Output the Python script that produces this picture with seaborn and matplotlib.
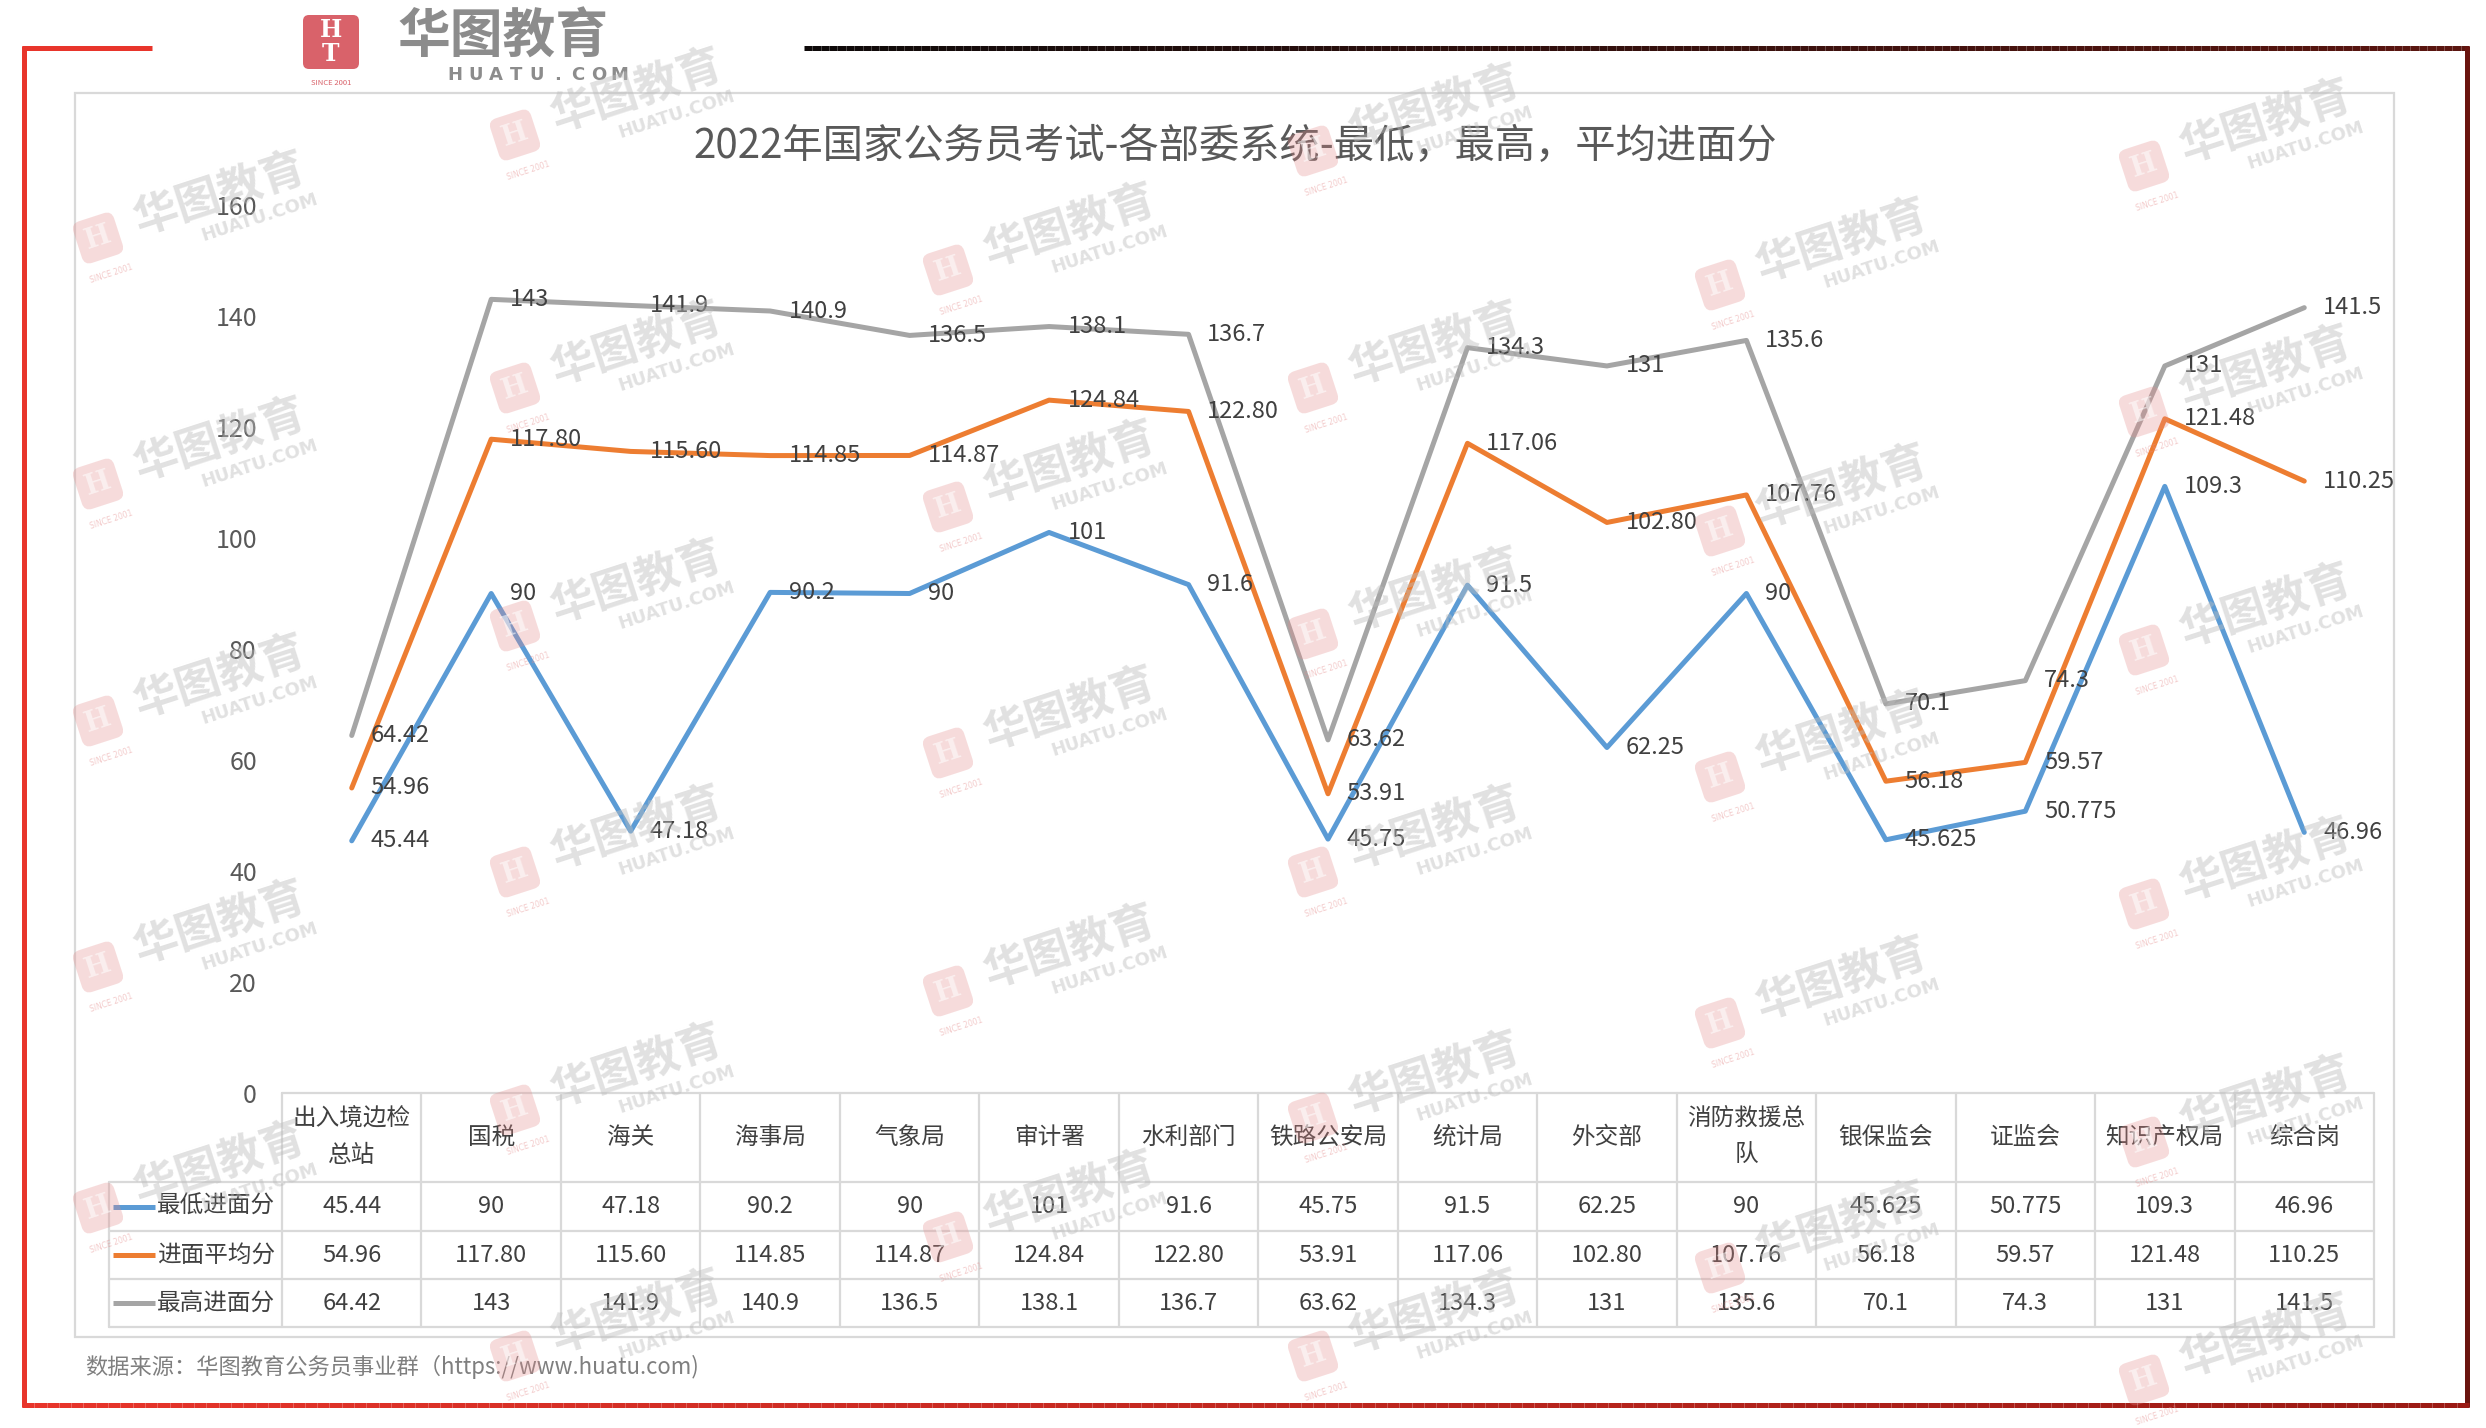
import numpy as np
import pandas as pd
import matplotlib
matplotlib.use('Agg')
import matplotlib.pyplot as plt
import seaborn as sns
import textwrap
from matplotlib.collections import LineCollection
from matplotlib.patches import Rectangle, FancyBboxPatch
from matplotlib.colors import LinearSegmentedColormap

# ---------------- data ----------------
categories = ['出入境边检总站', '国税', '海关', '海事局', '气象局', '审计署', '水利部门',
              '铁路公安局', '统计局', '外交部', '消防救援总队', '银保监会', '证监会',
              '知识产权局', '综合岗']
low_scores = [45.44, 90, 47.18, 90.2, 90, 101, 91.6, 45.75, 91.5, 62.25, 90, 45.625,
              50.775, 109.3, 46.96]
avg_scores = [54.96, 117.80, 115.60, 114.85, 114.87, 124.84, 122.80, 53.91, 117.06,
              102.80, 107.76, 56.18, 59.57, 121.48, 110.25]
high_scores = [64.42, 143, 141.9, 140.9, 136.5, 138.1, 136.7, 63.62, 134.3, 131, 135.6,
               70.1, 74.3, 131, 141.5]
series_names = ['最低进面分', '进面平均分', '最高进面分']
series_colors = ['#5B9BD5', '#ED7D31', '#A5A5A5']
y_ticks = [0, 20, 40, 60, 80, 100, 120, 140, 160]
title_text = '2022年国家公务员考试-各部委系统-最低，最高，平均进面分'
source_text = '数据来源：华图教育公务员事业群（https://www.huatu.com)'


def fmt_plain(v):
    return f'{v:g}'


def fmt_avg(v):
    return f'{v:.2f}'


series_values = [low_scores, avg_scores, high_scores]
series_fmt = [fmt_plain, fmt_avg, fmt_plain]

# ---------------- style ----------------
sns.set_theme(style='white')
plt.rcParams['font.family'] = ['Noto Sans CJK SC', 'DejaVu Sans']

W, H, DPI = 2486, 1428, 100
fig = plt.figure(figsize=(W / DPI, H / DPI), dpi=DPI, facecolor='white')

# background overlay in pixel coordinates
ov = fig.add_axes([0, 0, 1, 1])
ov.set_xlim(0, W)
ov.set_ylim(H, 0)
ov.axis('off')

TXT = '#404040'
GRID = '#D9D9D9'

# ---------------- line chart ----------------
left_px, right_px = 282, 2374
zero_px, top_px = 1093, 205
ax = fig.add_axes([left_px / W, 1 - zero_px / H, (right_px - left_px) / W,
                   (zero_px - top_px) / H])
ax.set_facecolor('none')

df = pd.DataFrame({
    'idx': list(range(len(categories))) * 3,
    '分数': low_scores + avg_scores + high_scores,
    '系列': [s for s in series_names for _ in categories],
})
sns.lineplot(data=df, x='idx', y='分数', hue='系列', hue_order=series_names,
             palette=series_colors, linewidth=3.6, ax=ax, legend=False,
             sort=False, estimator=None)

for vals, f in zip(series_values, series_fmt):
    for i, v in enumerate(vals):
        ax.annotate(f(v), (i, v), xytext=(13.5, 0), textcoords='offset points',
                    ha='left', va='center', fontsize=17, color=TXT)

ax.set_xlim(-0.5, len(categories) - 0.5)
ax.set_ylim(y_ticks[0], y_ticks[-1])
ax.set_yticks(y_ticks)
ax.set_yticklabels([str(t) for t in y_ticks], fontsize=18, color='#595959')
ax.set_xticks([])
ax.tick_params(axis='y', length=0, pad=18)
ax.set_xlabel('')
ax.set_ylabel('')
for sp in ax.spines.values():
    sp.set_visible(False)

# ---------------- data table ----------------
n = len(categories)
col_w = (right_px - left_px) / n
row_edges = [1093, 1182, 1231, 1279, 1327]
legend_left = 109
lw_grid = 1.6

ov.plot([left_px, right_px], [row_edges[0]] * 2, color=GRID, lw=lw_grid)
for yy in row_edges[1:]:
    ov.plot([legend_left, right_px], [yy, yy], color=GRID, lw=lw_grid)
for k in range(n + 1):
    xx = left_px + k * col_w
    ov.plot([xx, xx], [row_edges[0], row_edges[-1]], color=GRID, lw=lw_grid)
ov.plot([legend_left, legend_left], [row_edges[1], row_edges[-1]], color=GRID, lw=lw_grid)

hdr_y = (row_edges[0] + row_edges[1]) / 2
for i, cat in enumerate(categories):
    ov.text(left_px + (i + 0.5) * col_w, hdr_y, textwrap.fill(cat, 5), ha='center',
            va='center', fontsize=17, color=TXT, linespacing=1.75)

for r, (name, col, vals, f) in enumerate(zip(series_names, series_colors,
                                             series_values, series_fmt)):
    cy = (row_edges[r + 1] + row_edges[r + 2]) / 2
    ov.plot([113, 155], [cy, cy], color=col, lw=3.6, solid_capstyle='butt')
    ov.text(157, cy, name, ha='left', va='center', fontsize=17, color=TXT)
    for i, v in enumerate(vals):
        ov.text(left_px + (i + 0.5) * col_w, cy, f(v), ha='center', va='center',
                fontsize=17, color=TXT)

# ---------------- chart area border, title, source ----------------
ov.add_patch(Rectangle((75, 93), 2394 - 75, 1337 - 93, fill=False, ec=GRID, lw=1.6))
ov.text(1235, 146, title_text, ha='center', va='center', fontsize=29, color='#595959')
ov.text(85, 1367, source_text, ha='left', va='center', fontsize=16, color='#7F7F7F')

# ---------------- outer frame ----------------
def grad_line(x0, y0, x1, y1, c0, c1, lw):
    cmap = LinearSegmentedColormap.from_list('g', [c0, c1])
    t = np.linspace(0, 1, 200)
    xs = x0 + (x1 - x0) * t
    ys = y0 + (y1 - y0) * t
    pts = np.column_stack([xs, ys]).reshape(-1, 1, 2)
    segs = np.concatenate([pts[:-1], pts[1:]], axis=1)
    lc = LineCollection(segs, colors=cmap(t[:-1]), linewidths=lw, capstyle='butt')
    ov.add_collection(lc)

ov.plot([24, 24], [46, 1407], color='#E8352B', lw=3.6, solid_capstyle='butt')
ov.plot([22, 152], [48, 48], color='#E8352B', lw=3.6, solid_capstyle='butt')
grad_line(804, 48, 2469, 48, '#0E0A0A', '#5C1610', 3.6)
ov.plot([2467, 2467], [46, 1407], color='#6A140F', lw=3.6, solid_capstyle='butt')
grad_line(22, 1405, 2469, 1405, '#E8352B', '#9A1A14', 3.6)

# ---------------- logo ----------------
ov.add_patch(FancyBboxPatch((303, 15), 56, 54, boxstyle='round,pad=0,rounding_size=6',
                            fc='#D9626A', ec='none'))
ov.text(331, 30, 'H', ha='center', va='center', fontsize=17, fontweight='bold',
        color='white', family=['DejaVu Serif'])
ov.text(331, 54, 'T', ha='center', va='center', fontsize=17, fontweight='bold',
        color='white', family=['DejaVu Serif'])
ov.text(331, 83, 'SINCE 2001', ha='center', va='center', fontsize=5.5, color='#D9626A')
ov.text(503, 37, '华图教育', ha='center', va='center', fontsize=38, fontweight='bold',
        color='#8C8C8C')
for j, ch in enumerate('HUATU.COM'):
    ov.text(455 + j * 20.5, 75, ch, ha='center', va='center', fontsize=13,
            fontweight='bold', color='#8C8C8C', family=['DejaVu Sans'])

# ---------------- watermarks ----------------
wm = fig.add_axes([0, 0, 1, 1])
wm.set_xlim(0, W)
wm.set_ylim(H, 0)
wm.axis('off')
wm.set_facecolor('none')

wm_cols = {
    98: [238, 484, 721, 967, 1208],
    515: [135, 388, 626, 872, 1110, 1356],
    948: [270, 507, 753, 991, 1237],
    1313: [151, 388, 634, 872, 1118, 1356],
    1720: [285, 531, 777, 1023, 1268],
    2144: [166, 412, 650, 904, 1142, 1380],
}
ang = np.deg2rad(18)
u = np.array([np.cos(ang), -np.sin(ang)])
v = np.array([np.sin(ang), np.cos(ang)])
for cx, ys in wm_cols.items():
    for cy in ys:
        p = np.array([cx, cy], dtype=float)
        wm.text(*p, 'H', rotation=18, ha='center', va='center', fontsize=20,
                fontweight='bold', color='white', alpha=0.55, family=['DejaVu Serif'],
                rotation_mode='anchor',
                bbox=dict(boxstyle='round,pad=0.3', fc='#E48A8A', ec='none', alpha=0.3))
        q = p + 130 * u - 4 * v
        wm.text(*q, '华图教育', rotation=18, ha='center', va='center', fontsize=32,
                fontweight='bold', color='#BDBDBD', alpha=0.45, rotation_mode='anchor')
        q2 = p + 160 * u + 30 * v
        wm.text(*q2, 'HUATU.COM', rotation=18, ha='center', va='center', fontsize=13,
                fontweight='bold', color='#BDBDBD', alpha=0.45, rotation_mode='anchor',
                family=['DejaVu Sans'])
        q3 = p + 2 * u + 38 * v
        if q3[1] < H - 12:
            wm.text(*q3, 'SINCE 2001', rotation=18, ha='center', va='center',
                    fontsize=5.5, color='#E48A8A', alpha=0.45, rotation_mode='anchor',
                    family=['DejaVu Sans'])

fig.savefig('out.png', dpi=DPI, facecolor='white')
